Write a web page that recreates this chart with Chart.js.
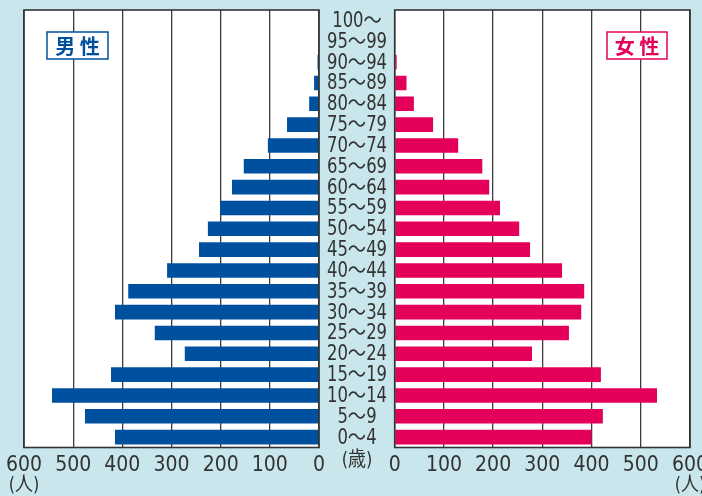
<!DOCTYPE html>
<html><head><meta charset="utf-8">
<script src="https://cdn.jsdelivr.net/npm/chart.js@4.4.1/dist/chart.umd.min.js"></script>
<style>
html,body{margin:0;padding:0;background:#c8e6ec;width:702px;height:496px;overflow:hidden}
canvas{position:absolute;left:0;top:0;width:702px;height:496px}
</style></head><body>
<canvas id="m" width="702" height="496"></canvas>
<canvas id="f" width="702" height="496"></canvas>
<script>
const ageGroups = ['100～','95～99','90～94','85～89','80～84','75～79','70～74','65～69','60～64','55～59','50～54','45～49','40～44','35～39','30～34','25～29','20～24','15～19','10～14','5～9','0～4'];
const maleValues   = [0,0,3,10,20,65,104,153,177,201,226,244,309,388,415,334,273,423,543,476,415];
const femaleValues = [0,0,4,24,39,78,129,178,192,214,253,275,340,385,379,354,279,419,533,423,400];
const tickValues = [0,100,200,300,400,500,600];
const unitLabel = '(人)';
const ageUnitLabel = '(歳)';
const maleLabel = '男 性';
const femaleLabel = '女 性';

const MALE = '#0050a0', FEMALE = '#e4005a', TXT = '#333333';
const NARROW = "'Liberation Sans Narrow','DejaVu Sans Condensed','Noto Sans CJK JP',sans-serif";
const CJK = "'Noto Sans CJK JP',sans-serif";

function frame(chart){
  const {ctx, chartArea:a} = chart;
  ctx.save();
  ctx.strokeStyle = '#333'; ctx.lineWidth = 1.6;
  ctx.strokeRect(a.left, a.top, a.right-a.left, a.bottom-a.top);
  ctx.restore();
}
function narrowText(ctx, text, x, y, sx){
  ctx.save();
  ctx.translate(x, y); ctx.scale(sx, 1);
  ctx.fillText(text, 0, 0);
  ctx.restore();
}
function labelBox(ctx, text, cx, cy, w, h, color){
  ctx.save();
  ctx.fillStyle = '#fff';
  ctx.fillRect(cx-w/2, cy-h/2, w, h);
  ctx.strokeStyle = color; ctx.lineWidth = 1.5;
  ctx.strokeRect(cx-w/2, cy-h/2, w, h);
  ctx.fillStyle = color;
  ctx.font = "bold 20px " + CJK;
  ctx.textAlign = 'center'; ctx.textBaseline = 'middle';
  ctx.fillText(text, cx, cy+1);
  ctx.restore();
}
const whiteArea = {
  id:'whiteArea',
  beforeDraw(chart){
    const {ctx, chartArea:a} = chart;
    ctx.save(); ctx.fillStyle = '#fff';
    ctx.fillRect(a.left, a.top, a.right-a.left, a.bottom-a.top);
    ctx.restore();
  }
};
const maleDeco = {
  id:'maleDeco',
  afterDraw(chart){
    const {ctx, chartArea:a, scales} = chart;
    frame(chart);
    const y = scales.y, x = scales.x;
    const cx = a.right + 38;
    ctx.save();
    ctx.fillStyle = TXT;
    ctx.textAlign = 'center'; ctx.textBaseline = 'middle';
    ctx.font = "21px " + NARROW;
    ageGroups.forEach((g,i)=>{ narrowText(ctx, g, cx, y.getPixelForValue(i)+1, 0.87); });
    ctx.font = "20px " + NARROW;
    narrowText(ctx, ageUnitLabel, cx, 461, 0.9);
    narrowText(ctx, unitLabel, x.getPixelForValue(600), 486, 0.9);
    ctx.restore();
    labelBox(ctx, maleLabel, 77.5, 45.5, 61, 27, MALE);
  }
};
const femaleDeco = {
  id:'femaleDeco',
  afterDraw(chart){
    const {ctx, scales} = chart;
    frame(chart);
    ctx.save();
    ctx.fillStyle = TXT;
    ctx.textAlign = 'center'; ctx.textBaseline = 'middle';
    ctx.font = "20px " + NARROW;
    narrowText(ctx, unitLabel, scales.x.getPixelForValue(600), 486, 0.9);
    ctx.restore();
    labelBox(ctx, femaleLabel, 637, 45.5, 60, 27, FEMALE);
  }
};

function makeChart(id, values, color, reverse, pad){
  return new Chart(document.getElementById(id), {
    type:'bar',
    data:{ labels: ageGroups, datasets:[{ data: values, backgroundColor: color, borderWidth:0, barPercentage:0.70, categoryPercentage:1 }] },
    options:{
      indexAxis:'y', responsive:false, animation:false, devicePixelRatio:1,
      layout:{ padding: pad },
      plugins:{ legend:{display:false}, tooltip:{enabled:false} },
      scales:{
        x:{
          min:0, max:600, reverse: reverse,
          afterBuildTicks: s => { s.ticks = tickValues.map(v=>({value:v})); },
          afterFit: s => { s.height = 48.5; s.paddingLeft = 0; s.paddingRight = 0; },
          grid:{ color:'#3c3c3c', lineWidth:1.3, drawTicks:false },
          border:{ display:false },
          ticks:{ autoSkip:false, maxRotation:0, padding:5, color:TXT, font:{ family:NARROW, size:21 } }
        },
        y:{ display:false }
      }
    },
    plugins:[whiteArea, reverse ? maleDeco : femaleDeco]
  });
}
makeChart('m', maleValues, MALE, true, {left:24, right:383, top:10, bottom:0});
makeChart('f', femaleValues, FEMALE, false, {left:394.7, right:12, top:10, bottom:0});
</script>
</body></html>
